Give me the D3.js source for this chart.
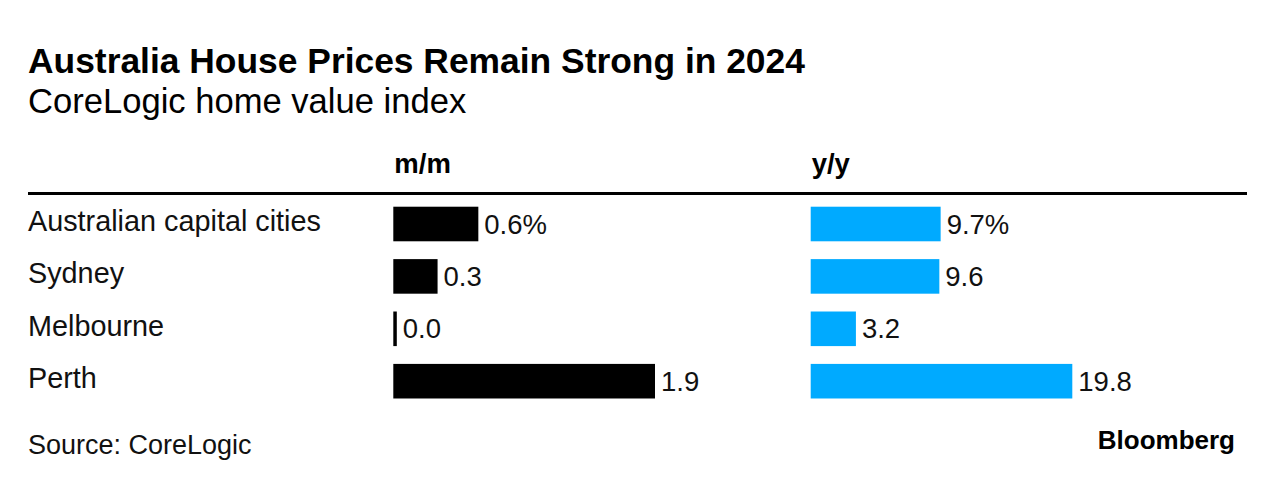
<!DOCTYPE html>
<html>
<head>
<meta charset="utf-8">
<script src="https://cdn.jsdelivr.net/npm/d3@7"></script>
<style>
  html, body { margin: 0; padding: 0; background: #fff; }
  svg { display: block; font-family: "Liberation Sans", Arial, Helvetica, sans-serif; }
</style>
</head>
<body>
<svg id="chart" width="1275" height="486"></svg>
<script>
// ---- Data ----
const categories = ["Australian capital cities", "Sydney", "Melbourne", "Perth"];
const monthOnMonth = [0.6, 0.3, 0.0, 1.9];
const yearOnYear = [9.7, 9.6, 3.2, 19.8];
const seriesNames = ["m/m", "y/y"];
const title = "Australia House Prices Remain Strong in 2024";
const subtitle = "CoreLogic home value index";
const source = "Source: CoreLogic";
const brand = "Bloomberg";

// ---- Layout ----
const svg = d3.select("#chart");
const left = 28, right = 1247;

svg.append("text").attr("x", left).attr("y", 73)
  .attr("font-size", 35.4).attr("font-weight", 700).attr("fill", "#000").text(title);
svg.append("text").attr("x", left).attr("y", 113)
  .attr("font-size", 34.6).attr("fill", "#000").text(subtitle);

const y = d3.scaleBand().domain(categories).range([197.8, 407.4])
  .paddingInner(0.34).paddingOuter(0.17);

const panels = [
  { name: seriesNames[0], values: monthOnMonth, x0: 393.3, x1: 655, color: "#000000" },
  { name: seriesNames[1], values: yearOnYear, x0: 810.7, x1: 1072.3, color: "#00aaff" }
];

// header rule
svg.append("rect").attr("x", left).attr("y", 192).attr("width", right - left).attr("height", 3).attr("fill", "#000");

// category labels
svg.append("g").selectAll("text").data(categories).join("text")
  .attr("x", left)
  .attr("y", d => y(d) + y.bandwidth() / 2 + 7)
  .attr("font-size", 28.8).attr("fill", "#111")
  .text(d => d);

panels.forEach(p => {
  const x = d3.scaleLinear().domain([0, d3.max(p.values)]).range([p.x0 + 3.5, p.x1]);
  const g = svg.append("g");
  g.append("text").attr("x", p.x0 + 1).attr("y", 173)
    .attr("font-size", 27.5).attr("font-weight", 700).attr("fill", "#000").text(p.name);
  g.selectAll("rect.bar").data(p.values).join("rect").attr("class", "bar")
    .attr("x", p.x0)
    .attr("y", (d, i) => y(categories[i]))
    .attr("width", d => x(d) - p.x0)
    .attr("height", y.bandwidth())
    .attr("fill", p.color);
  g.selectAll("text.val").data(p.values).join("text").attr("class", "val")
    .attr("x", d => x(d) + 6)
    .attr("y", (d, i) => y(categories[i]) + y.bandwidth() / 2 + 9.5)
    .attr("font-size", 27.5).attr("fill", "#111")
    .text((d, i) => d.toFixed(1) + (i === 0 ? "%" : ""));
});

svg.append("text").attr("x", left).attr("y", 454)
  .attr("font-size", 27).attr("fill", "#111").text(source);
svg.append("text").attr("x", 1235).attr("y", 448.5).attr("text-anchor", "end")
  .attr("font-size", 26).attr("font-weight", 700).attr("fill", "#000")
  .text(brand);
</script>
</body>
</html>
